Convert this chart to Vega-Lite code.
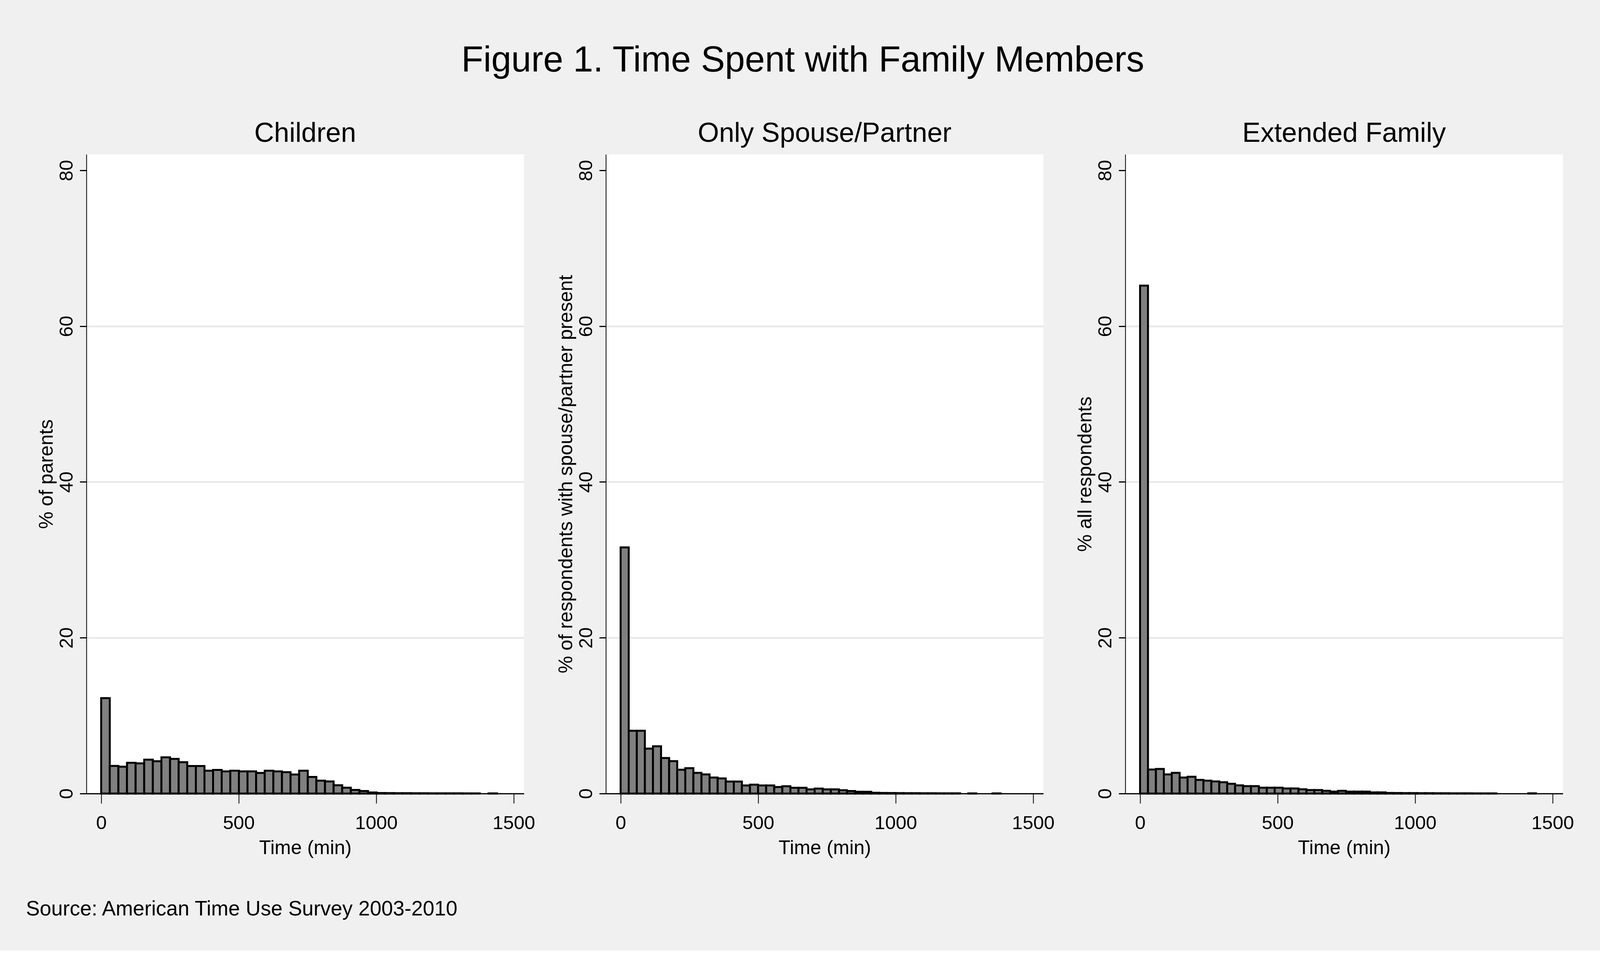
{
  "$schema": "https://vega.github.io/schema/vega-lite/v6.json",
  "background": "#f0f0f0",
  "padding": {"left": 66.2, "top": 109, "right": 67, "bottom": 79},
  "title": {
    "text": "Figure 1. Time Spent with Family Members",
    "fontSize": 92,
    "offset": 105,
    "dx": 7.4,
    "frame": "bounds"
  },
  "data": {
    "values": [
      {"panel": "Children", "start": 0, "end": 31.3, "pct": 12.25},
      {"panel": "Children", "start": 31.3, "end": 62.61, "pct": 3.55},
      {"panel": "Children", "start": 62.61, "end": 93.91, "pct": 3.45},
      {"panel": "Children", "start": 93.91, "end": 125.22, "pct": 3.95},
      {"panel": "Children", "start": 125.22, "end": 156.52, "pct": 3.87},
      {"panel": "Children", "start": 156.52, "end": 187.83, "pct": 4.35},
      {"panel": "Children", "start": 187.83, "end": 219.13, "pct": 4.15},
      {"panel": "Children", "start": 219.13, "end": 250.43, "pct": 4.65},
      {"panel": "Children", "start": 250.43, "end": 281.74, "pct": 4.45},
      {"panel": "Children", "start": 281.74, "end": 313.04, "pct": 4.03},
      {"panel": "Children", "start": 313.04, "end": 344.35, "pct": 3.53},
      {"panel": "Children", "start": 344.35, "end": 375.65, "pct": 3.53},
      {"panel": "Children", "start": 375.65, "end": 406.96, "pct": 2.93},
      {"panel": "Children", "start": 406.96, "end": 438.26, "pct": 3.03},
      {"panel": "Children", "start": 438.26, "end": 469.57, "pct": 2.84},
      {"panel": "Children", "start": 469.57, "end": 500.87, "pct": 2.93},
      {"panel": "Children", "start": 500.87, "end": 532.17, "pct": 2.84},
      {"panel": "Children", "start": 532.17, "end": 563.48, "pct": 2.84},
      {"panel": "Children", "start": 563.48, "end": 594.78, "pct": 2.65},
      {"panel": "Children", "start": 594.78, "end": 626.09, "pct": 2.93},
      {"panel": "Children", "start": 626.09, "end": 657.39, "pct": 2.84},
      {"panel": "Children", "start": 657.39, "end": 688.7, "pct": 2.74},
      {"panel": "Children", "start": 688.7, "end": 720, "pct": 2.44},
      {"panel": "Children", "start": 720, "end": 751.3, "pct": 2.93},
      {"panel": "Children", "start": 751.3, "end": 782.61, "pct": 2.13},
      {"panel": "Children", "start": 782.61, "end": 813.91, "pct": 1.65},
      {"panel": "Children", "start": 813.91, "end": 845.22, "pct": 1.55},
      {"panel": "Children", "start": 845.22, "end": 876.52, "pct": 1.06},
      {"panel": "Children", "start": 876.52, "end": 907.83, "pct": 0.75},
      {"panel": "Children", "start": 907.83, "end": 939.13, "pct": 0.46},
      {"panel": "Children", "start": 939.13, "end": 970.43, "pct": 0.33},
      {"panel": "Children", "start": 970.43, "end": 1001.74, "pct": 0.14},
      {"panel": "Children", "start": 1001.74, "end": 1033.04, "pct": 0.07},
      {"panel": "Children", "start": 1033.04, "end": 1064.35, "pct": 0.06},
      {"panel": "Children", "start": 1064.35, "end": 1095.65, "pct": 0.05},
      {"panel": "Children", "start": 1095.65, "end": 1126.96, "pct": 0.05},
      {"panel": "Children", "start": 1126.96, "end": 1158.26, "pct": 0.04},
      {"panel": "Children", "start": 1158.26, "end": 1189.57, "pct": 0.04},
      {"panel": "Children", "start": 1189.57, "end": 1220.87, "pct": 0.03},
      {"panel": "Children", "start": 1220.87, "end": 1252.17, "pct": 0.03},
      {"panel": "Children", "start": 1252.17, "end": 1283.48, "pct": 0.03},
      {"panel": "Children", "start": 1283.48, "end": 1314.78, "pct": 0.03},
      {"panel": "Children", "start": 1314.78, "end": 1346.09, "pct": 0.02},
      {"panel": "Children", "start": 1346.09, "end": 1377.39, "pct": 0.02},
      {"panel": "Children", "start": 1408.7, "end": 1440, "pct": 0.02},
      {"panel": "Spouse", "start": 0, "end": 29.4, "pct": 31.6},
      {"panel": "Spouse", "start": 29.4, "end": 58.8, "pct": 8.06},
      {"panel": "Spouse", "start": 58.8, "end": 88.2, "pct": 8.06},
      {"panel": "Spouse", "start": 88.2, "end": 117.6, "pct": 5.77},
      {"panel": "Spouse", "start": 117.6, "end": 147, "pct": 6.07},
      {"panel": "Spouse", "start": 147, "end": 176.4, "pct": 4.57},
      {"panel": "Spouse", "start": 176.4, "end": 205.8, "pct": 4.16},
      {"panel": "Spouse", "start": 205.8, "end": 235.2, "pct": 3.06},
      {"panel": "Spouse", "start": 235.2, "end": 264.6, "pct": 3.26},
      {"panel": "Spouse", "start": 264.6, "end": 294, "pct": 2.66},
      {"panel": "Spouse", "start": 294, "end": 323.4, "pct": 2.46},
      {"panel": "Spouse", "start": 323.4, "end": 352.8, "pct": 2.06},
      {"panel": "Spouse", "start": 352.8, "end": 382.2, "pct": 1.94},
      {"panel": "Spouse", "start": 382.2, "end": 411.6, "pct": 1.54},
      {"panel": "Spouse", "start": 411.6, "end": 441, "pct": 1.54},
      {"panel": "Spouse", "start": 441, "end": 470.4, "pct": 1.04},
      {"panel": "Spouse", "start": 470.4, "end": 499.8, "pct": 1.14},
      {"panel": "Spouse", "start": 499.8, "end": 529.2, "pct": 1.04},
      {"panel": "Spouse", "start": 529.2, "end": 558.6, "pct": 1.04},
      {"panel": "Spouse", "start": 558.6, "end": 588, "pct": 0.84},
      {"panel": "Spouse", "start": 588, "end": 617.4, "pct": 0.94},
      {"panel": "Spouse", "start": 617.4, "end": 646.8, "pct": 0.74},
      {"panel": "Spouse", "start": 646.8, "end": 676.2, "pct": 0.74},
      {"panel": "Spouse", "start": 676.2, "end": 705.6, "pct": 0.54},
      {"panel": "Spouse", "start": 705.6, "end": 735, "pct": 0.64},
      {"panel": "Spouse", "start": 735, "end": 764.4, "pct": 0.54},
      {"panel": "Spouse", "start": 764.4, "end": 793.8, "pct": 0.54},
      {"panel": "Spouse", "start": 793.8, "end": 823.2, "pct": 0.43},
      {"panel": "Spouse", "start": 823.2, "end": 852.6, "pct": 0.33},
      {"panel": "Spouse", "start": 852.6, "end": 882, "pct": 0.23},
      {"panel": "Spouse", "start": 882, "end": 911.4, "pct": 0.23},
      {"panel": "Spouse", "start": 911.4, "end": 940.8, "pct": 0.1},
      {"panel": "Spouse", "start": 940.8, "end": 970.2, "pct": 0.08},
      {"panel": "Spouse", "start": 970.2, "end": 999.6, "pct": 0.07},
      {"panel": "Spouse", "start": 999.6, "end": 1029, "pct": 0.06},
      {"panel": "Spouse", "start": 1029, "end": 1058.4, "pct": 0.05},
      {"panel": "Spouse", "start": 1058.4, "end": 1087.8, "pct": 0.05},
      {"panel": "Spouse", "start": 1087.8, "end": 1117.2, "pct": 0.04},
      {"panel": "Spouse", "start": 1117.2, "end": 1146.6, "pct": 0.04},
      {"panel": "Spouse", "start": 1146.6, "end": 1176, "pct": 0.03},
      {"panel": "Spouse", "start": 1176, "end": 1205.4, "pct": 0.03},
      {"panel": "Spouse", "start": 1205.4, "end": 1234.8, "pct": 0.03},
      {"panel": "Spouse", "start": 1264.2, "end": 1293.6, "pct": 0.02},
      {"panel": "Spouse", "start": 1352.4, "end": 1381.8, "pct": 0.02},
      {"panel": "Extended", "start": 0, "end": 28.8, "pct": 65.2},
      {"panel": "Extended", "start": 28.8, "end": 57.6, "pct": 3.08},
      {"panel": "Extended", "start": 57.6, "end": 86.4, "pct": 3.16},
      {"panel": "Extended", "start": 86.4, "end": 115.2, "pct": 2.46},
      {"panel": "Extended", "start": 115.2, "end": 144, "pct": 2.66},
      {"panel": "Extended", "start": 144, "end": 172.8, "pct": 2.06},
      {"panel": "Extended", "start": 172.8, "end": 201.6, "pct": 2.16},
      {"panel": "Extended", "start": 201.6, "end": 230.4, "pct": 1.76},
      {"panel": "Extended", "start": 230.4, "end": 259.2, "pct": 1.66},
      {"panel": "Extended", "start": 259.2, "end": 288, "pct": 1.56},
      {"panel": "Extended", "start": 288, "end": 316.8, "pct": 1.45},
      {"panel": "Extended", "start": 316.8, "end": 345.6, "pct": 1.25},
      {"panel": "Extended", "start": 345.6, "end": 374.4, "pct": 1.05},
      {"panel": "Extended", "start": 374.4, "end": 403.2, "pct": 0.95},
      {"panel": "Extended", "start": 403.2, "end": 432, "pct": 0.95},
      {"panel": "Extended", "start": 432, "end": 460.8, "pct": 0.75},
      {"panel": "Extended", "start": 460.8, "end": 489.6, "pct": 0.75},
      {"panel": "Extended", "start": 489.6, "end": 518.4, "pct": 0.75},
      {"panel": "Extended", "start": 518.4, "end": 547.2, "pct": 0.65},
      {"panel": "Extended", "start": 547.2, "end": 576, "pct": 0.65},
      {"panel": "Extended", "start": 576, "end": 604.8, "pct": 0.55},
      {"panel": "Extended", "start": 604.8, "end": 633.6, "pct": 0.45},
      {"panel": "Extended", "start": 633.6, "end": 662.4, "pct": 0.45},
      {"panel": "Extended", "start": 662.4, "end": 691.2, "pct": 0.35},
      {"panel": "Extended", "start": 691.2, "end": 720, "pct": 0.25},
      {"panel": "Extended", "start": 720, "end": 748.8, "pct": 0.35},
      {"panel": "Extended", "start": 748.8, "end": 777.6, "pct": 0.25},
      {"panel": "Extended", "start": 777.6, "end": 806.4, "pct": 0.25},
      {"panel": "Extended", "start": 806.4, "end": 835.2, "pct": 0.25},
      {"panel": "Extended", "start": 835.2, "end": 864, "pct": 0.15},
      {"panel": "Extended", "start": 864, "end": 892.8, "pct": 0.15},
      {"panel": "Extended", "start": 892.8, "end": 921.6, "pct": 0.08},
      {"panel": "Extended", "start": 921.6, "end": 950.4, "pct": 0.07},
      {"panel": "Extended", "start": 950.4, "end": 979.2, "pct": 0.06},
      {"panel": "Extended", "start": 979.2, "end": 1008, "pct": 0.06},
      {"panel": "Extended", "start": 1008, "end": 1036.8, "pct": 0.05},
      {"panel": "Extended", "start": 1036.8, "end": 1065.6, "pct": 0.05},
      {"panel": "Extended", "start": 1065.6, "end": 1094.4, "pct": 0.04},
      {"panel": "Extended", "start": 1094.4, "end": 1123.2, "pct": 0.04},
      {"panel": "Extended", "start": 1123.2, "end": 1152, "pct": 0.03},
      {"panel": "Extended", "start": 1152, "end": 1180.8, "pct": 0.03},
      {"panel": "Extended", "start": 1180.8, "end": 1209.6, "pct": 0.03},
      {"panel": "Extended", "start": 1209.6, "end": 1238.4, "pct": 0.02},
      {"panel": "Extended", "start": 1238.4, "end": 1267.2, "pct": 0.02},
      {"panel": "Extended", "start": 1267.2, "end": 1296, "pct": 0.02},
      {"panel": "Extended", "start": 1411.2, "end": 1440, "pct": 0.03}
    ]
  },
  "vconcat": [
    {
      "title": {
        "text": "Source: American Time Use Survey 2003-2010",
        "orient": "bottom",
        "anchor": "start",
        "frame": "group",
        "fontSize": 53,
        "offset": 105,
        "dx": -154.7
      },
      "bounds": "flush",
      "spacing": 208.8,
      "hconcat": [
        {
          "width": 1120.1,
          "height": 1636,
          "title": {"text": "Children"},
          "transform": [{"filter": "datum.panel === 'Children'"}],
          "mark": {"type": "bar", "fill": "#808080", "stroke": "black", "strokeWidth": 5},
          "encoding": {
            "x": {
              "field": "start",
              "type": "quantitative",
              "scale": {"domain": [-53.7, 1537.4], "nice": false, "zero": false},
              "axis": {"title": "Time (min)", "values": [0, 500, 1000, 1500], "format": "d"}
            },
            "x2": {"field": "end"},
            "y": {
              "field": "pct",
              "type": "quantitative",
              "scale": {"domain": [0, 82.05], "nice": false},
              "axis": {"title": "% of parents", "values": [0, 20, 40, 60, 80]}
            },
            "y2": {"datum": 0}
          }
        },
        {
          "width": 1120.1,
          "height": 1636,
          "title": {"text": "Only Spouse/Partner"},
          "transform": [{"filter": "datum.panel === 'Spouse'"}],
          "mark": {"type": "bar", "fill": "#808080", "stroke": "black", "strokeWidth": 5},
          "encoding": {
            "x": {
              "field": "start",
              "type": "quantitative",
              "scale": {"domain": [-53.7, 1537.4], "nice": false, "zero": false},
              "axis": {"title": "Time (min)", "values": [0, 500, 1000, 1500], "format": "d"}
            },
            "x2": {"field": "end"},
            "y": {
              "field": "pct",
              "type": "quantitative",
              "scale": {"domain": [0, 82.05], "nice": false},
              "axis": {"title": "% of respondents with spouse/partner present", "values": [0, 20, 40, 60, 80]}
            },
            "y2": {"datum": 0}
          }
        },
        {
          "width": 1120.1,
          "height": 1636,
          "title": {"text": "Extended Family"},
          "transform": [{"filter": "datum.panel === 'Extended'"}],
          "mark": {"type": "bar", "fill": "#808080", "stroke": "black", "strokeWidth": 5},
          "encoding": {
            "x": {
              "field": "start",
              "type": "quantitative",
              "scale": {"domain": [-53.7, 1537.4], "nice": false, "zero": false},
              "axis": {"title": "Time (min)", "values": [0, 500, 1000, 1500], "format": "d"}
            },
            "x2": {"field": "end"},
            "y": {
              "field": "pct",
              "type": "quantitative",
              "scale": {"domain": [0, 82.05], "nice": false},
              "axis": {"title": "% all respondents", "values": [0, 20, 40, 60, 80]}
            },
            "y2": {"datum": 0}
          }
        }
      ]
    }
  ],
  "config": {
    "font": "Liberation Sans",
    "view": {"fill": "white", "stroke": null},
    "title": {
      "color": "black",
      "fontWeight": "normal",
      "fontSize": 70,
      "baseline": "alphabetic",
      "offset": 16.8,
      "anchor": "middle",
      "frame": "group"
    },
    "axis": {
      "domainColor": "black",
      "tickColor": "black",
      "labelColor": "black",
      "labelFontSize": 49,
      "labelFlush": false,
      "labelOverlap": false,
      "titleColor": "black",
      "titleFontSize": 50,
      "titleFontWeight": "normal",
      "gridColor": "#e6e6e6",
      "gridWidth": 4
    },
    "axisX": {
      "grid": false,
      "domainWidth": 3,
      "tickWidth": 2,
      "tickSize": 25,
      "labelPadding": 26.8,
      "titleBaseline": "alphabetic",
      "titlePadding": 54
    },
    "axisY": {
      "grid": true,
      "gridOpacity": {"condition": {"test": "datum.value >= 80 || datum.value <= 0", "value": 0}, "value": 1},
      "domainWidth": 2,
      "tickWidth": 3,
      "tickSize": 16.9,
      "labelAngle": 270,
      "labelAlign": "center",
      "labelBaseline": "alphabetic",
      "labelPadding": 18.9,
      "titleBaseline": "alphabetic",
      "titlePadding": 12
    }
  }
}
